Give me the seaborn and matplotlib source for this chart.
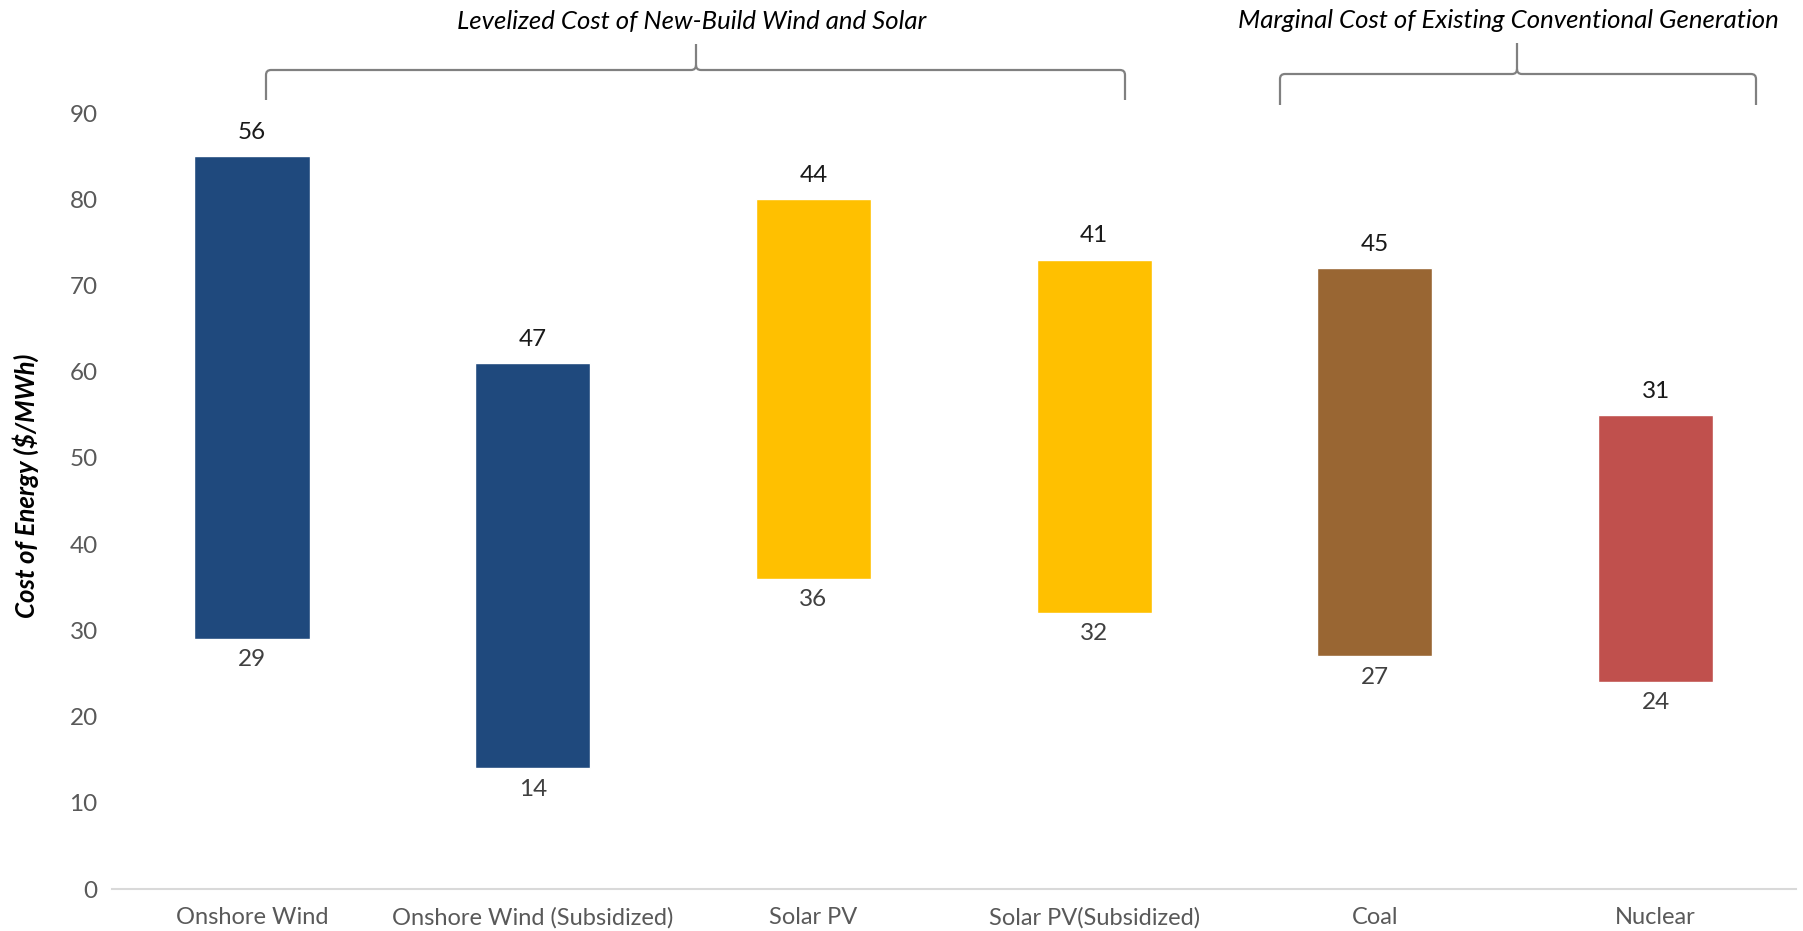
import matplotlib
matplotlib.use("Agg")
import matplotlib.pyplot as plt
import seaborn as sns
import pandas as pd
from matplotlib.path import Path
from matplotlib.patches import PathPatch

# ---- data ----
categories = ["Onshore Wind", "Onshore Wind (Subsidized)", "Solar PV",
              "Solar PV(Subsidized)", "Coal", "Nuclear"]
low_values = [29, 14, 36, 32, 27, 24]
range_values = [56, 47, 44, 41, 45, 31]
bar_colors = ["#1F497D", "#1F497D", "#FFC000", "#FFC000", "#996633", "#C0504D"]
y_ticks = [0, 10, 20, 30, 40, 50, 60, 70, 80, 90]
group_labels = ["Levelized Cost of New-Build Wind and Solar",
                "Marginal Cost of Existing Conventional Generation"]
y_label = "Cost of Energy ($/MWh)"

sns.set_theme(style="white")
plt.rcParams['font.family'] = ['Lato', 'DejaVu Sans']

W, H = 1803, 931
fig = plt.figure(figsize=(W / 100, H / 100), dpi=100)
ax = fig.add_axes([111.6 / W, 42 / H, 1684.4 / W, 776 / H])

df = pd.DataFrame({"category": categories, "range": range_values, "low": low_values})
sns.barplot(data=df, x="category", y="range", hue="category", palette=bar_colors,
            width=0.41, legend=False, ax=ax, saturation=1)
for patch, low in zip(ax.patches, low_values):
    patch.set_y(low)

ax.set_xlim(-0.5, len(categories) - 0.5)
ax.set_ylim(0, 90)
ax.set_yticks(y_ticks)
ax.set_xlabel("")
ax.set_ylabel(y_label, fontsize=18.5, fontweight='bold', fontstyle='italic', color='black')
ax.yaxis.set_label_coords(-0.043, 0.52)
ax.tick_params(axis='y', length=0, pad=10, labelsize=17.5, labelcolor='#595959')
ax.tick_params(axis='x', length=0, pad=13, labelsize=17, labelcolor='#595959')

for s in ['left', 'right', 'top']:
    ax.spines[s].set_visible(False)
ax.spines['bottom'].set_color('#d9d9d9')
ax.spines['bottom'].set_linewidth(1.5)

for i, (lo, rg) in enumerate(zip(low_values, range_values)):
    ax.annotate(str(rg), (i, lo + rg), xytext=(0, 17), textcoords='offset points',
                ha='center', va='center', fontsize=17.5, color='#1a1a1a')
    ax.annotate(str(lo), (i, lo), xytext=(0, -15), textcoords='offset points',
                ha='center', va='center', fontsize=17.5, color='#404040')


def fp(x, y):
    return (x / W, 1 - y / H)


def brace(L, T, R, yh, ytop, yb, r=5):
    verts = [fp(L, yb), fp(L, yh + r), fp(L, yh), fp(L + r, yh),
             fp(T - r, yh), fp(T, yh), fp(T, yh - r), fp(T, ytop),
             fp(T, yh - r), fp(T, yh), fp(T + r, yh),
             fp(R - r, yh), fp(R, yh), fp(R, yh + r), fp(R, yb)]
    codes = [Path.MOVETO, Path.LINETO, Path.CURVE3, Path.CURVE3,
             Path.LINETO, Path.CURVE3, Path.CURVE3, Path.LINETO,
             Path.MOVETO, Path.CURVE3, Path.CURVE3,
             Path.LINETO, Path.CURVE3, Path.CURVE3, Path.LINETO]
    p = PathPatch(Path(verts, codes), transform=fig.transFigure, fill=False,
                  edgecolor='#808080', linewidth=1.6, clip_on=False)
    fig.patches.append(p)


brace(266, 696, 1125, 70, 44, 100)
brace(1280, 1517, 1756, 74, 43, 105)

fig.text(*fp(692, 21), group_labels[0], ha='center', va='center',
         fontsize=18.5, fontstyle='italic', color='black')
fig.text(*fp(1508, 21), group_labels[1], ha='center', va='center',
         fontsize=18.5, fontstyle='italic', color='black')

fig.savefig("out.png", dpi=100)
